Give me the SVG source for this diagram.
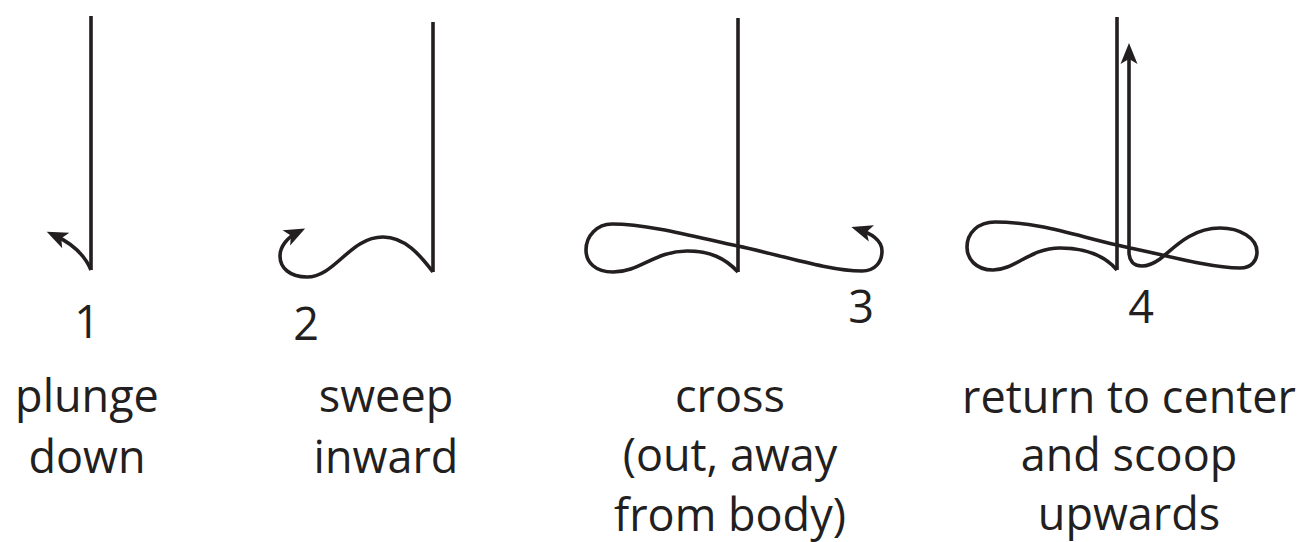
<svg xmlns="http://www.w3.org/2000/svg" width="1302" height="542" viewBox="0 0 1302 542">
<style>
.s{fill:none;stroke:#231f20;stroke-width:3.6;stroke-linejoin:round}
.t{font-family:"Open Sans","Noto Sans",sans-serif;font-size:45px;fill:#231f20;text-anchor:middle}
</style>
<defs>
<marker id="ah" markerUnits="userSpaceOnUse" viewBox="-24 -10 26 20" refX="-8" refY="0" markerWidth="26" markerHeight="20" orient="auto">
<path d="M0,0 L-21,-8.5 L-16,0 L-21,8.5 Z" fill="#231f20"/>
</marker>
</defs>
<rect width="1302" height="542" fill="#fff"/>
<g id="step1">
<line class="s" x1="91" y1="16" x2="91" y2="270"/>
<text class="t" x="87" y="338">1</text>
<text class="t" x="87" y="412">plunge</text>
<text class="t" x="87" y="473">down</text>
</g>
<g id="step2">
<line class="s" x1="433" y1="22" x2="433" y2="272"/>
<text class="t" x="306" y="340">2</text>
<text class="t" x="386" y="412">sweep</text>
<text class="t" x="386" y="473">inward</text>
</g>
<g id="step3">
<line class="s" x1="738" y1="18" x2="738" y2="272"/>
<text class="t" x="861" y="323">3</text>
<text class="t" x="730" y="412">cross</text>
<text class="t" x="730" y="471">(out, away</text>
<text class="t" x="730" y="531">from body)</text>
</g>
<g id="step4">
<line class="s" x1="1117" y1="17" x2="1117" y2="270"/>
<text class="t" x="1141" y="323">4</text>
<text class="t" x="1129" y="413">return to center</text>
<text class="t" x="1129" y="471">and scoop</text>
<text class="t" x="1129" y="530">upwards</text>
</g>
<g id="connectors">
<path class="s" marker-end="url(#ah)" d="M91,270 Q82,248 54,235"/>
<path class="s" marker-end="url(#ah)" d="M433,272 C420,255 405,237 383,237 C350,237 335,277 307,277 C290,277 280,268 280,256 C280,246 288,237 298,232"/>
<path class="s" marker-end="url(#ah)" d="M738,272 C725,258 710,251 687,251 C655,251 640,272 613,272 C595,272 586,262 586,250 C586,236 597,224 612,224 C650,224 700,238 738,246 C780,255 830,271 862,271 C875,271 882,262 882,251 C882,240 870,233 859,229.5"/>
<path class="s" marker-end="url(#ah)" d="M1117,270 C1105,256 1085,248 1060,248 C1030,248 1015,270 993,270 C975,270 967,258 967,247 C967,233 978,222 995,222 C1040,222 1080,237 1117,245 C1160,254 1210,268 1240,268 C1252,268 1257,260 1257,252 C1257,238 1240,228 1220,228 C1190,228 1172,250 1160,259 C1153,264 1148,266 1142,266 C1133,266 1129,260 1129,252 L1129,51"/>
</g>
</svg>
